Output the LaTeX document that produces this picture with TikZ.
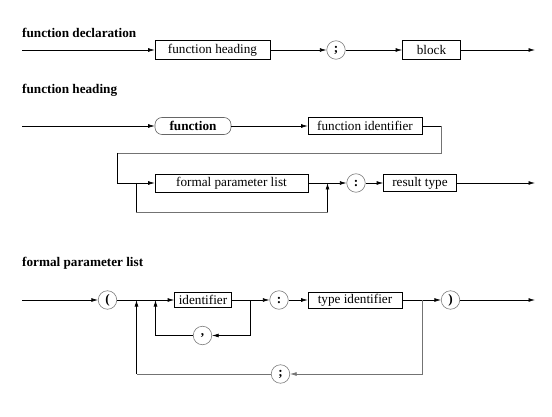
\documentclass[tikz,border=0pt]{standalone}
\usepackage{fontspec}
\setmainfont{Liberation Serif}
\usetikzlibrary{arrows.meta}
\begin{document}
\begin{tikzpicture}[x=1pt,y=-1pt,
  every node/.style={font=\fontsize{13.2}{15}\selectfont},
  titl/.style={anchor=west,inner sep=0pt,font=\fontsize{13.2}{15}\selectfont\bfseries},
  ntbox/.style={draw=black,line width=0.6pt,rectangle,inner sep=0pt,minimum height=18pt},
  rbox/.style={draw=black!60,line width=0.6pt,rectangle,rounded corners=7pt,inner sep=0pt,minimum height=17pt},
  tcirc/.style={draw=black!50,line width=0.6pt,circle,inner sep=0pt,minimum size=18.5pt,font=\fontsize{13.2}{15}\selectfont\bfseries},
  ln/.style={line width=0.6pt,draw=black},
  lng/.style={line width=0.6pt,draw=black!55},
  arr/.style={ln,-{Latex[length=6.5pt,width=3.8pt]}},
  arrg/.style={lng,-{Latex[length=6.5pt,width=3.8pt]}}]
\useasboundingbox (0,0) rectangle (552,417);

% ---------- function declaration ----------
\node[titl] (t1) at (22,33) {function declaration};
\coordinate (s1) at (22,50);
\node[ntbox,minimum width=115pt,minimum height=19pt] (fh) at (212.5,50) {function heading};
\node[tcirc] (c1) at (336,50) {;};
\node[ntbox,minimum width=58pt,minimum height=19pt] (blk) at (431.5,50) {block};
\coordinate (e1) at (535,50);
\draw[arr] (s1) -- (fh);
\draw[arr] (fh) -- (c1);
\draw[arr] (c1) -- (blk);
\draw[arr] (blk) -- (e1);

% ---------- function heading ----------
\node[titl] (t2) at (22,90) {function heading};
\coordinate (s2) at (22,126);
\node[rbox,minimum width=76pt] (fn) at (193,126) {\textbf{function}};
\node[ntbox,minimum width=114pt,minimum height=17pt] (fid) at (365,126) {function identifier};
\coordinate (d1) at (441,126);
\coordinate (d2) at (441,153);
\coordinate (d3) at (117,153);
\coordinate (d4) at (117,183);
\coordinate (b1) at (136,183);
\coordinate (b2) at (136,212);
\coordinate (b3) at (327.5,212);
\coordinate (j2) at (327.5,183);
\node[ntbox,minimum width=153pt,minimum height=18pt] (fpl) at (231.5,183) {formal parameter list};
\node[tcirc] (c2) at (356,183) {:};
\node[ntbox,minimum width=73pt,minimum height=17.5pt] (rt) at (420,183) {result type};
\coordinate (e2) at (535,183);
\draw[arr] (s2) -- (fn);
\draw[arr] (fn) -- (fid);
\draw[ln] (fid) -- (d1);
\draw[lng] (d1) -- (d2) -- (d3);
\draw[ln] (d3) -- (d4);
\draw[arr] (d4) -- (fpl);
\draw[ln] (b1) -- (b2);
\draw[lng] (b2) -- (b3);
\draw[arr] (b3) -- (j2);
\draw[ln] (fpl) -- (j2);
\draw[arr] (j2) -- (c2);
\draw[arr] (c2) -- (rt);
\draw[arr] (rt) -- (e2);

% ---------- formal parameter list ----------
\node[titl] (t3) at (22,263.5) {formal parameter list};
\coordinate (s3) at (22,300);
\node[tcirc] (lp) at (107.5,300) {(};
\coordinate (u1) at (136.5,300);
\coordinate (u2) at (155.5,300);
\node[ntbox,minimum width=57pt,minimum height=14.5pt] (id) at (203,300) {identifier};
\coordinate (j3) at (250.5,300);
\node[tcirc] (c3) at (279,300) {:};
\node[ntbox,minimum width=94pt,minimum height=16pt] (tid) at (355,300) {type identifier};
\coordinate (j4) at (422.5,300);
\node[tcirc] (rp) at (450.5,300) {)};
\coordinate (e3) at (535,300);
\coordinate (k1) at (250.5,335.5);
\node[tcirc] (cm) at (202.5,335.5) {,};
\coordinate (k2) at (155.5,335.5);
\coordinate (m1) at (422.5,374);
\node[tcirc] (sc) at (280.5,374) {;};
\coordinate (m2) at (136.5,374);

\draw[arr] (s3) -- (lp);
\draw[arr] (lp) -- (id);
\draw[arr] (id) -- (c3);
\draw[arr] (c3) -- (tid);
\draw[arr] (tid) -- (rp);
\draw[arr] (rp) -- (e3);
\draw[ln] (j3) -- (k1);
\draw[arr] (k1) -- (cm);
\draw[ln] (cm) -- (k2);
\draw[arr] (k2) -- (u2);
\draw[lng] (j4) -- (m1);
\draw[arrg] (m1) -- (sc);
\draw[lng] (sc) -- (m2);
\draw[arr] (m2) -- (u1);
\end{tikzpicture}
\end{document}
